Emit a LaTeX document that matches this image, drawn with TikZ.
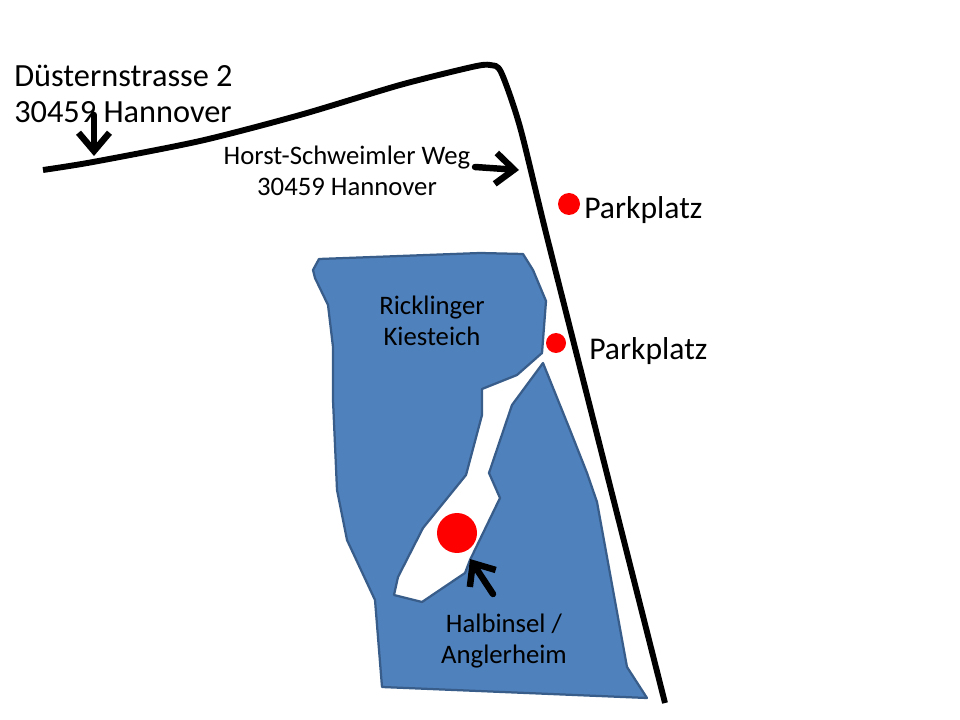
\documentclass[tikz,border=0pt]{standalone}
\usepackage{fontspec}
\usepackage{tkz-euclide}
\usepackage{xcolor}
\usetikzlibrary{arrows.meta}
\setmainfont{Carlito}
\definecolor{lakeblue}{HTML}{4F81BD}
\definecolor{lakeedge}{HTML}{385D8A}
\tikzset{
	road/.style={line width=4.2pt,line join=round},
	pointer/.style={line width=4.6pt,-{Straight Barb[length=13pt,width=22pt,line width=4.6pt]}},
	lake/.style={draw=lakeedge,fill=lakeblue,line width=1.6pt,line join=round},
	spot/.style={circle,fill=red,inner sep=0pt},
	biglabel/.style={font=\fontsize{23}{25.6}\selectfont,align=left,inner sep=0pt},
	midlabel/.style={font=\fontsize{22.5}{22.5}\selectfont,inner sep=0pt},
	smalllabel/.style={font=\fontsize{19}{22.4}\selectfont,align=center,inner sep=0pt}
}
\begin{document}
\begin{tikzpicture}[x=0.025cm,y=-0.025cm]
	\useasboundingbox (0,0) rectangle (960,720);
	\tkzDefPoints{94/115/S,94/156/E,475/167/T,519/170/U,493/594/H,470/559/I}
	% Teich und Halbinsel
	\draw[lake] (313,270) -- (319,259) -- (400,256) -- (480,253) -- (523,254) -- (533,270)
		-- (546,301) -- (542,353) -- (517,375) -- (482,389) -- (482,415) -- (466,475)
		-- (423,528) -- (398,577) -- (394,595) -- (422,602) -- (465,573) -- (470,560)
		-- (500,498) -- (489,473) -- (512,405) -- (543,363) -- (570,430) -- (587,473)
		-- (597,502) -- (627,667) -- (647,698) -- (382,687) -- (375,600) -- (347,540)
		-- (337,490) -- (333,400) -- (333,347) -- (328,305) -- (315,278) -- cycle;
	% Strassen
	\draw[road] plot[smooth,tension=0.45] coordinates {(43,170) (93,162) (200,141) (300,115) (400,85) (472,67) (490,65) (501,72) (520,127) (547,237) (606,470) (665,703)};
	% Punkte
	\node[spot,minimum size=22pt*0.711] (park1) at (569,204) {};
	\node[spot,minimum size=20pt*0.711] (park2) at (556,343) {};
	\node[spot,minimum size=40pt*0.711] (heim) at (457,533) {};
	% Pfeile
	\tkzDrawSegments[pointer](S,E T,U H,I)
	% Texte
	\node[biglabel,anchor=west] (adresse) at (14,94) {Düsternstrasse 2\\30459 Hannover};
	\node[smalllabel] (weg) at (347,171) {Horst-Schweimler Weg\\30459 Hannover};
	\node[midlabel,anchor=west] (parktext1) at (584,210) {Parkplatz};
	\node[midlabel,anchor=west] (parktext2) at (589,351) {Parkplatz};
	\node[smalllabel] (teich) at (432,321) {Ricklinger\\Kiesteich};
	\node[smalllabel] (halb) at (504,641) {Halbinsel /\\Anglerheim};
\end{tikzpicture}
\end{document}
